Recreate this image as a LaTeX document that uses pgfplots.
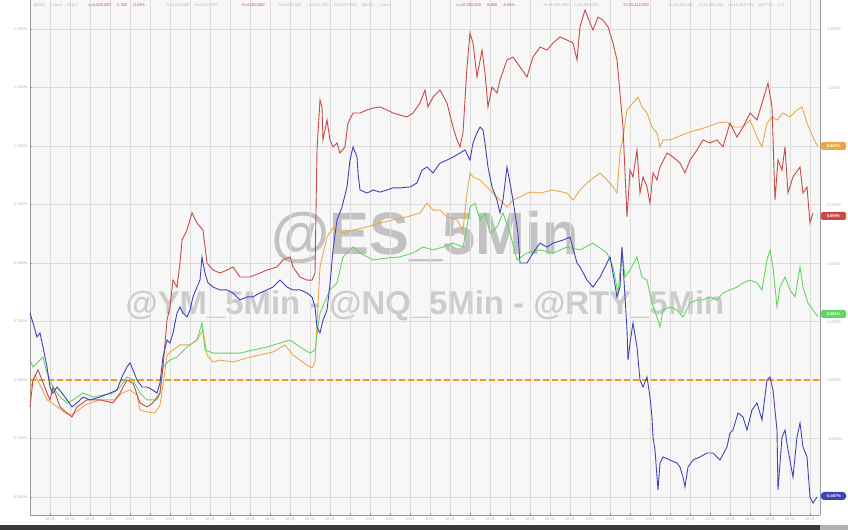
\documentclass[border=0pt]{standalone}
\usepackage{pgfplots}
\pgfplotsset{compat=1.18}
\usepackage{fontspec}
\setmainfont{Liberation Sans}
\definecolor{esred}{HTML}{C84A46}
\definecolor{nqblue}{HTML}{4242B8}
\definecolor{ymgreen}{HTML}{62D662}
\definecolor{rtyorange}{HTML}{E8A84C}
\definecolor{zeroline}{HTML}{F29A1E}
\definecolor{gridgray}{HTML}{DCDCDC}
\definecolor{axgray}{HTML}{9A9A9A}
\definecolor{txtgray}{HTML}{B4B4B4}

\begin{document}
\begin{tikzpicture}
\useasboundingbox (0,0) rectangle (848bp,530bp);
\fill[white] (0,0) rectangle (848bp,530bp);
\fill[black!3] (30bp,15bp) rectangle (820bp,530bp);
\fill[black!78] (0,0) rectangle (820bp,5bp);
\fill[black!30] (820bp,0) rectangle (848bp,5bp);

% watermarks
\node[text=black!24, font=\fontsize{60}{60}\selectfont\bfseries] at (425bp,292bp) {@ES\_5Min};
\node[text=black!20, font=\fontsize{33}{33}\selectfont\bfseries] at (425bp,224bp) {@YM\_5Min - @NQ\_5Min - @RTY\_5Min};

\begin{axis}[
    at={(30bp,15bp)}, anchor=south west,
    width=790bp, height=515bp, scale only axis,
    xmin=30, xmax=820, ymin=-0.577, ymax=1.624,
    axis line style={axgray, line width=0.8pt},
    axis x line*=bottom, axis y line*=left,
    xtick={50,70,...,810},
    xticklabels={18:00,20:00,22:00,0:00,2:00,4:00,6:00,8:00,10:00,12:00,14:00,16:00,18:00,20:00,22:00,0:00,2:00,4:00,6:00,8:00,10:00,12:00,14:00,16:00,18:00,20:00,22:00,0:00,2:00,4:00,6:00,8:00,10:00,12:00,14:00,16:00,18:00,20:00,22:00},
    ytick={-0.5,-0.25,0,0.25,0.5,0.75,1,1.25,1.5},
    yticklabels={-0.500\%,-0.250\%,0.000\%,0.250\%,0.500\%,0.750\%,1.000\%,1.250\%,1.500\%},
    ticklabel style={text=txtgray, font=\fontsize{4}{4}\selectfont},
    xticklabel style={yshift=1bp},
    yticklabel style={xshift=1bp},
    major tick length=2bp,
    tick style={axgray, line width=0.4pt},
    grid=major,
    major grid style={gridgray, line width=0.7pt},
    clip=false,
  ]
  \addplot[zeroline, line width=1.6pt, dash pattern=on 6bp off 3bp] coordinates {(30,0) (820,0)};

  \addplot[rtyorange, line width=0.9pt] coordinates {
    (30,-0.043)(35,0.021)(40,-0.021)(47,-0.085)(55,-0.107)(65,-0.141)(72,-0.150)(85,-0.107)
    (100,-0.085)(115,-0.085)(122,-0.056)(130,-0.043)(137,-0.064)(140,-0.128)(147,-0.137)
    (155,-0.141)(160,-0.107)(163,-0.021)(167,0.107)(173,0.128)(180,0.150)(190,0.150)
    (197,0.171)(203,0.214)(207,0.107)(213,0.077)(220,0.085)(233,0.077)(247,0.094)
    (260,0.107)(273,0.120)(285,0.150)(293,0.107)(300,0.085)(307,0.064)(312,0.051)
    (315,0.077)(320,0.483)(327,0.611)(333,0.650)(343,0.628)(353,0.641)(367,0.654)
    (380,0.671)(393,0.684)(407,0.697)(420,0.714)(427,0.756)(433,0.726)(440,0.726)
    (447,0.697)(457,0.684)(463,0.641)(467,0.799)(470,0.885)(473,0.868)(480,0.855)
    (487,0.825)(493,0.799)(500,0.769)(507,0.739)(513,0.769)(520,0.782)(527,0.799)
    (533,0.803)(540,0.799)(553,0.812)(567,0.799)(573,0.769)(580,0.812)(587,0.842)
    (600,0.885)(607,0.855)(613,0.825)(617,0.799)(620,0.970)(623,1.038)(627,1.154)
    (633,1.184)(638,1.209)(642,1.167)(647,1.141)(652,1.081)(657,1.056)(660,0.996)
    (663,1.026)(670,1.026)(677,1.038)(687,1.056)(697,1.068)(707,1.081)(717,1.098)
    (727,1.103)(733,1.081)(743,1.081)(750,1.111)(757,1.038)(762,0.996)(767,1.098)
    (772,1.124)(777,1.111)(783,1.141)(790,1.124)(797,1.154)(802,1.167)(807,1.098)
    (813,1.038)(818,0.996)
  };

  \addplot[ymgreen, line width=0.9pt] coordinates {
    (30,0.085)(33,0.056)(40,0.085)(43,0.098)(47,0.030)(53,-0.030)(60,-0.073)(67,-0.098)
    (73,-0.085)(83,-0.056)(93,-0.073)(103,-0.064)(113,-0.056)(120,-0.030)(127,0.013)
    (133,0)(140,-0.056)(147,-0.085)(157,-0.085)(160,-0.056)(163,0.056)(170,0.085)
    (177,0.098)(187,0.141)(197,0.171)(202,0.244)(205,0.128)(213,0.115)(227,0.115)
    (240,0.115)(253,0.128)(267,0.141)(280,0.158)(290,0.171)(300,0.141)(310,0.115)
    (315,0.128)(320,0.286)(330,0.385)(337,0.415)(343,0.526)(353,0.568)(360,0.543)
    (373,0.513)(387,0.521)(400,0.526)(413,0.543)(423,0.568)(433,0.556)(443,0.568)
    (453,0.585)(463,0.568)(467,0.654)(470,0.739)(475,0.756)(480,0.684)(485,0.714)
    (490,0.628)(497,0.654)(503,0.714)(510,0.628)(517,0.513)(527,0.543)(540,0.556)
    (553,0.543)(567,0.568)(580,0.556)(593,0.585)(607,0.543)(613,0.483)(618,0.372)
    (622,0.556)(625,0.440)(630,0.470)(637,0.526)(642,0.440)(647,0.427)(652,0.329)
    (657,0.269)(660,0.226)(663,0.299)(670,0.312)(677,0.299)(683,0.269)(690,0.329)
    (697,0.342)(703,0.342)(710,0.355)(717,0.342)(723,0.372)(730,0.385)(737,0.397)
    (743,0.415)(750,0.427)(757,0.415)(762,0.385)(767,0.513)(770,0.556)(773,0.483)
    (777,0.312)(780,0.397)(785,0.440)(790,0.385)(795,0.355)(800,0.483)(803,0.397)
    (808,0.329)(813,0.299)(818,0.269)
  };

  \addplot[esred, line width=0.9pt] coordinates {
    (30,-0.115)(33,0)(38,0.043)(42,0)(47,-0.056)(50,-0.085)(53,-0.030)(60,-0.115)
    (67,-0.141)(72,-0.158)(77,-0.115)(87,-0.085)(100,-0.085)(113,-0.098)(120,-0.056)
    (127,0)(133,-0.013)(140,-0.098)(147,-0.115)(153,-0.098)(160,-0.056)(163,0.056)
    (167,0.256)(170,0.312)(173,0.427)(177,0.397)(180,0.500)(182,0.598)(187,0.641)
    (192,0.714)(197,0.671)(203,0.641)(207,0.500)(213,0.470)(220,0.457)(227,0.470)
    (233,0.483)(240,0.440)(250,0.440)(260,0.457)(267,0.470)(277,0.483)(283,0.513)
    (290,0.526)(293,0.483)(300,0.440)(307,0.427)(312,0.427)(315,0.457)(317,0.983)
    (320,1.197)(322,1.167)(323,1.026)(327,1.111)(330,1.026)(333,0.996)(337,1.013)
    (340,0.970)(345,0.996)(348,1.098)(353,1.141)(360,1.141)(367,1.154)(373,1.162)
    (380,1.167)(387,1.154)(393,1.141)(400,1.132)(407,1.124)(413,1.141)(420,1.184)
    (425,1.239)(428,1.167)(433,1.209)(440,1.239)(447,1.184)(453,1.081)(457,1.026)
    (460,0.996)(463,1.056)(467,1.338)(470,1.483)(473,1.440)(477,1.295)(482,1.410)
    (485,1.312)(488,1.167)(492,1.252)(497,1.226)(500,1.282)(507,1.368)(513,1.380)
    (520,1.338)(527,1.295)(533,1.380)(540,1.423)(547,1.410)(553,1.440)(560,1.466)
    (567,1.453)(573,1.440)(577,1.368)(580,1.509)(585,1.581)(590,1.526)(593,1.496)
    (598,1.551)(603,1.538)(608,1.509)(613,1.440)(617,1.368)(620,1.226)(623,1.081)
    (627,0.697)(630,0.897)(633,0.868)(637,0.983)(640,0.799)(643,0.868)(647,0.825)
    (650,0.756)(653,0.885)(657,0.855)(660,0.910)(667,0.970)(673,0.953)(680,0.927)
    (685,0.885)(690,0.940)(697,0.983)(703,1.026)(710,1.013)(717,1.026)(723,0.996)
    (730,1.098)(737,1.038)(743,1.081)(750,1.141)(757,1.111)(763,1.197)(768,1.269)
    (772,1.167)(775,0.769)(778,0.940)(782,0.897)(785,0.996)(788,0.799)(793,0.868)
    (800,0.910)(803,0.799)(807,0.825)(810,0.671)(813,0.714)
  };

  \addplot[nqblue, line width=0.9pt] coordinates {
    (30,0.286)(33,0.244)(37,0.184)(40,0.201)(43,0.141)(47,0.056)(50,-0.030)(53,-0.056)
    (57,-0.030)(62,-0.056)(67,-0.085)(72,-0.115)(77,-0.098)(83,-0.073)(90,-0.085)
    (100,-0.073)(110,-0.056)(117,-0.043)(122,0.013)(127,0.056)(130,0.073)(133,0.043)
    (137,0)(142,-0.030)(147,-0.030)(153,-0.043)(157,-0.056)(160,-0.013)(163,0.098)
    (167,0.171)(170,0.158)(173,0.201)(177,0.286)(180,0.312)(183,0.286)(187,0.269)
    (190,0.299)(193,0.355)(197,0.397)(200,0.427)(202,0.526)(205,0.457)(208,0.415)
    (213,0.397)(220,0.385)(227,0.385)(233,0.372)(240,0.342)(247,0.355)(253,0.355)
    (260,0.372)(267,0.385)(273,0.397)(280,0.427)(287,0.397)(293,0.385)(300,0.385)
    (307,0.372)(312,0.355)(315,0.312)(317,0.226)(320,0.201)(323,0.256)(327,0.299)
    (330,0.410)(333,0.556)(337,0.684)(342,0.739)(347,0.825)(350,0.940)(353,0.996)
    (357,0.953)(358,0.885)(360,0.812)(367,0.799)(373,0.812)(380,0.803)(387,0.812)
    (393,0.821)(400,0.821)(410,0.825)(417,0.842)(422,0.897)(427,0.910)(433,0.885)
    (440,0.927)(447,0.940)(453,0.953)(460,0.970)(465,0.983)(470,0.940)(473,1.013)
    (477,1.056)(480,1.081)(483,1.068)(485,1.013)(488,0.910)(492,0.825)(497,0.769)
    (500,0.714)(503,0.769)(507,0.910)(510,0.842)(513,0.769)(518,0.628)(520,0.500)
    (527,0.500)(533,0.543)(540,0.585)(547,0.568)(553,0.585)(563,0.598)(570,0.611)
    (577,0.500)(580,0.483)(587,0.427)(593,0.397)(600,0.440)(607,0.500)(610,0.526)
    (613,0.457)(617,0.355)(620,0.397)(622,0.568)(625,0.355)(627,0.214)(628,0.085)
    (630,0.158)(633,0.244)(637,0.141)(640,0)(643,-0.030)(647,0.013)(650,-0.073)
    (652,-0.158)(653,-0.244)(655,-0.299)(658,-0.470)(660,-0.355)(663,-0.329)
    (670,-0.342)(677,-0.355)(680,-0.372)(683,-0.415)(685,-0.457)(688,-0.372)
    (693,-0.342)(700,-0.329)(707,-0.312)(713,-0.312)(720,-0.342)(727,-0.286)
    (730,-0.226)(733,-0.214)(738,-0.141)(743,-0.158)(747,-0.214)(752,-0.128)
    (757,-0.098)(762,-0.171)(767,0)(770,0.013)(773,-0.043)(777,-0.214)(778,-0.470)
    (782,-0.244)(785,-0.214)(788,-0.299)(793,-0.415)(797,-0.244)(800,-0.184)
    (803,-0.286)(807,-0.329)(810,-0.500)(813,-0.526)(817,-0.500)
  };
\end{axis}

% right axis line and labels
\draw[axgray, line width=0.8pt] (820bp,15bp) -- (820bp,530bp);
\begin{scope}[every node/.style={text=txtgray, font=\fontsize{4}{4}\selectfont, anchor=west}]
  \node at (824bp,501bp) {1.500\%};
  \node at (824bp,442bp) {1.250\%};
  \node at (824bp,325bp) {0.750\%};
  \node at (824bp,266bp) {0.500\%};
  \node at (824bp,208bp) {0.250\%};
  \node at (824bp,150bp) {0.000\%};
  \node at (824bp,91bp) {-0.250\%};
\end{scope}

% last value tags
\begin{scope}[every node/.style={text=white, font=\fontsize{4}{4}\selectfont\bfseries}]
  \fill[rtyorange, rounded corners=1.5bp] (821bp,380bp) rectangle (846bp,388bp);
  \node at (833.5bp,384bp) {0.997\%};
  \fill[esred, rounded corners=1.5bp] (821bp,310bp) rectangle (846bp,318bp);
  \node at (833.5bp,314bp) {0.699\%};
  \fill[ymgreen, rounded corners=1.5bp] (821bp,212bp) rectangle (846bp,220bp);
  \node at (833.5bp,216bp) {0.281\%};
  \fill[nqblue, rounded corners=3bp] (821bp,30bp) rectangle (846bp,38bp);
  \node at (833.5bp,34bp) {-0.497\%};
\end{scope}

% header line
\begin{scope}[every node/.style={font=\fontsize{4}{4}\selectfont, anchor=west}]
  \node[text=txtgray] at (30bp,525bp) {@ES1 \quad 1 Hour \quad OHLC};
  \node[text=esred] at (85bp,525bp) {L=4,000.250 \quad -1.250 \quad -0.03\%};
  \node[text=txtgray] at (163bp,525bp) {H=4,010.000 \quad H=4,020.750};
  \node[text=esred] at (238bp,525bp) {O=4,000.000};
  \node[text=txtgray] at (275bp,525bp) {H=4,010.500 \quad L=4,001.750 \quad H=4,007.250 \quad @NQ1 \quad 1 Hour};
  \node[text=esred] at (453bp,525bp) {L=15,350.000 \quad -9.000 \quad -0.06\%};
  \node[text=txtgray] at (540bp,525bp) {H=15,397.000 \quad L=15,350.000};
  \node[text=esred] at (620bp,525bp) {O=15,412.000};
  \node[text=txtgray] at (665bp,525bp) {H=15,420.000 \quad L=15,403.250 \quad H=15,438.750 \quad @RTY1 \quad 1 H};
\end{scope}
\end{tikzpicture}
\end{document}
